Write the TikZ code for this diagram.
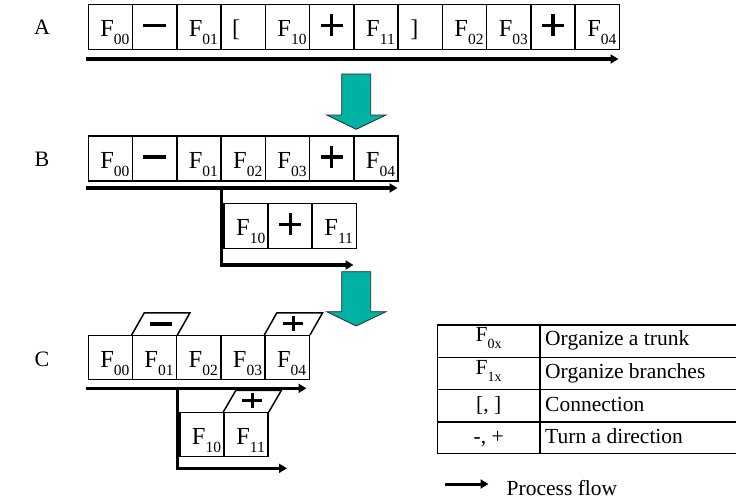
\documentclass[tikz,border=0pt]{standalone}
\usepackage{fontspec}
\setmainfont{Liberation Serif}
\usetikzlibrary{arrows.meta,calc}
\definecolor{teal1}{RGB}{0,178,164}
\definecolor{edgegray}{RGB}{40,40,40}
\newcommand\fcell[1]{\fontsize{24.5}{24.5}\selectfont\hspace*{9pt}F\raisebox{-8.4pt}{\fontsize{15.5}{15.5}\selectfont #1}}
\newcommand\ftab[1]{F\raisebox{-7pt}{\fontsize{14}{14}\selectfont #1}}
\tikzset{
  cell/.style={draw=black, line width=1.5pt, minimum width=44.27pt, minimum height=45pt,
    inner sep=0pt, text height=19.1pt, text depth=0pt, anchor=west},
  flow/.style={line width=3.3pt, -{Triangle[length=8pt,width=9pt]}},
  sign/.style={line width=3.2pt},
  face/.style={line width=1.5pt},
  greenarrow/.style={fill=teal1, draw=edgegray, line width=0.8pt, line join=miter},
  tabline/.style={line width=1.6pt},
  rowlabel/.style={font=\fontsize{22}{22}\selectfont, anchor=base, inner sep=0pt},
  tabtext/.style={font=\fontsize{21.5}{22}\selectfont, inner sep=0pt},
}
\begin{document}
\begin{tikzpicture}[x=1pt,y=-1pt]
\useasboundingbox (0,0) rectangle (736,503);

% row labels
\node[rowlabel] (labA) at (42,34.5) {A};
\node[rowlabel] (labB) at (42,166) {B};
\node[rowlabel] (labC) at (42,366) {C};

% ---------- row A ----------
\foreach \i/\t in {1/{\fcell{00}},2/{},3/{\fcell{01}},4/{\fontsize{24}{24}\selectfont[\hspace*{14pt}},
  5/{\fcell{10}},6/{},7/{\fcell{11}},8/{\fontsize{24}{24}\selectfont]\hspace*{12pt}},
  9/{\fcell{02}},10/{\fcell{03}},11/{},12/{\fcell{04}}}
  \node[cell] (a\i) at ({87.5+(\i-1)*44.27},27) {\t};
\draw[sign] ($(a2.center)+(-11.5,-1.5)$) -- ++(23,0);
\foreach \n in {a6,a11}
  \draw[sign] ($(\n.center)+(-11,-1.5)$) -- ++(22,0) ($(\n.center)+(0,-12.5)$) -- ++(0,22);
\coordinate (aS) at (85.5,59);
\coordinate (aE) at (618.5,59);
\draw[flow] (aS) -- (aE);

% green arrow 1
\draw[greenarrow] (341.7,74) -- (370.7,74) -- (370.7,115) -- (386,115) -- (356.2,129.3)
  -- (326.7,115) -- (341.7,115) -- cycle;

% ---------- row B ----------
\foreach \i/\t in {1/{\fcell{00}},2/{},3/{\fcell{01}},4/{\fcell{02}},5/{\fcell{03}},6/{},7/{\fcell{04}}}
  \node[cell] (b\i) at ({87.5+(\i-1)*44.27},158.5) {\t};
\draw[sign] ($(b2.center)+(-11.5,-1.5)$) -- ++(23,0);
\draw[sign] ($(b6.center)+(-11,-1.5)$) -- ++(22,0) ($(b6.center)+(0,-12.5)$) -- ++(0,22);
\coordinate (bS) at (85.5,188);
\coordinate (bE) at (397.5,188);
\draw[flow] (bS) -- (bE);
\foreach \i/\t in {1/{\fcell{10}},2/{},3/{\fcell{11}}}
  \node[cell] (bs\i) at ({223.3+(\i-1)*44},225.8) {\t};
\draw[sign] ($(bs2.center)+(-11,-1.5)$) -- ++(22,0) ($(bs2.center)+(0,-12.5)$) -- ++(0,22);
\coordinate (bJ) at (221.7,188);
\coordinate (bT) at (353.5,265);
\draw[flow] (bJ) |- (bT);

% green arrow 2
\draw[greenarrow] (341.7,271.7) -- (370.7,271.7) -- (370.7,311.7) -- (386,311.7) -- (356.2,326)
  -- (326.7,311.7) -- (341.7,311.7) -- cycle;

% ---------- row C ----------
\foreach \i/\t in {1/{\fcell{00}},2/{\fcell{01}},3/{\fcell{02}},4/{\fcell{03}},5/{\fcell{04}}}
  \node[cell, minimum width=44.2pt, minimum height=44pt] (c\i) at ({87.5+(\i-1)*44.2},357.7) {\t};
\draw[face] (c2.north west) -- ++(12.5,-22) -- ($(c2.north east)+(12.5,-22)$) -- (c2.north east);
\draw[sign] ($(c2.north)+(6.25-11,-11)$) -- ++(22,0);
\draw[face] (c5.north west) -- ++(12.5,-22) -- ($(c5.north east)+(12.5,-22)$) -- (c5.north east);
\draw[sign] ($(c5.north)+(6.25-10,-11.5)$) -- ++(20,0) ($(c5.north)+(6.25,-19)$) -- ++(0,15);
\coordinate (cS) at (85.5,388.3);
\coordinate (cE) at (306.5,388.3);
\draw[flow] (cS) -- (cE);
\foreach \i/\t in {1/{\fcell{10}},2/{\fcell{11}}}
  \node[cell, minimum width=44pt, minimum height=44pt] (cs\i) at ({179.3+(\i-1)*44},434.7) {\t};
\draw[face] (cs2.north west) -- ++(12.5,-21.5) -- ($(cs2.north east)+(12.5,-21.5)$) -- (cs2.north east);
\draw[sign] ($(cs2.north)+(6.25-10,-11.5)$) -- ++(20,0) ($(cs2.north)+(6.25,-19)$) -- ++(0,15);
\coordinate (cJ) at (177.3,388.3);
\coordinate (cT) at (287,468.3);
\draw[flow] (cJ) |- (cT);

% ---------- table ----------
\foreach \y in {325,357.5,389.3,421.7,453.3}
  \draw[tabline] (437.3,\y) -- (736,\y);
\draw[tabline] (437.3,325) -- (437.3,453.3);
\draw[tabline] (540,325) -- (540,453.3);
\node[tabtext, anchor=base] (t11) at (488.7,341.5) {\ftab{0x}};
\node[tabtext, anchor=base] (t21) at (488.7,374) {\ftab{1x}};
\node[tabtext, anchor=base] (t31) at (488.7,411.5) {[, ]};
\node[tabtext, anchor=base] (t41) at (488.7,443.5) {-, +};
\node[tabtext, anchor=base west] (t12) at (545,345) {Organize a trunk};
\node[tabtext, anchor=base west] (t22) at (545,378) {Organize branches};
\node[tabtext, anchor=base west] (t32) at (545,411.5) {Connection};
\node[tabtext, anchor=base west] (t42) at (545,443.5) {Turn a direction};

% legend
\coordinate (lS) at (445,484);
\coordinate (lE) at (488.5,484);
\draw[flow, line width=3pt] (lS) -- (lE);
\node[tabtext, anchor=base west] (leg) at (506.5,495) {Process flow};
\end{tikzpicture}
\end{document}
